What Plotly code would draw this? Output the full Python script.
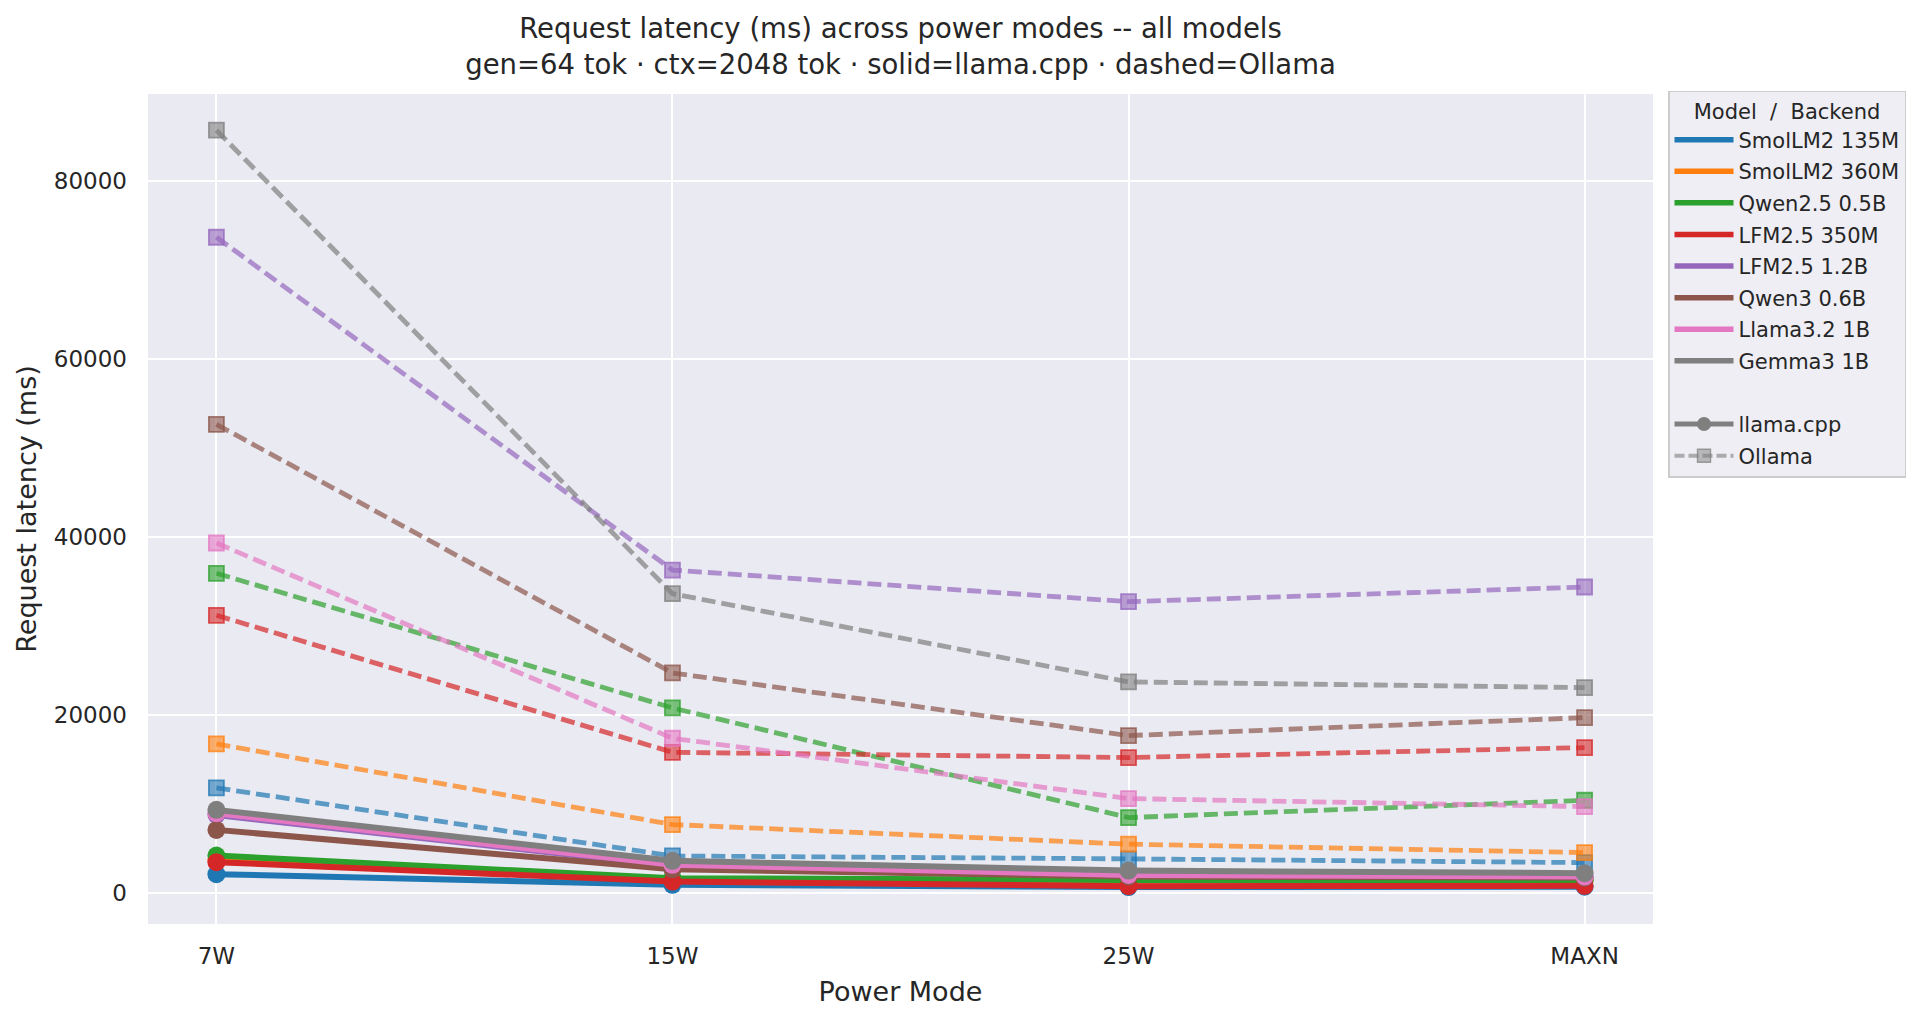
import plotly.graph_objects as go

modes = ["7W", "15W", "25W", "MAXN"]
models = ["SmolLM2 135M", "SmolLM2 360M", "Qwen2.5 0.5B", "LFM2.5 350M",
          "LFM2.5 1.2B", "Qwen3 0.6B", "Llama3.2 1B", "Gemma3 1B"]
colors = ["#1f77b4", "#ff7f0e", "#2ca02c", "#d62728",
          "#9467bd", "#8c564b", "#e377c2", "#7f7f7f"]

# llama.cpp request latency (ms) per power mode
llamacpp_smollm2_135m = [2100, 900, 650, 700]
llamacpp_smollm2_360m = [3700, 1500, 1350, 1450]
llamacpp_qwen25_05b = [4190, 1650, 1460, 1400]
llamacpp_lfm25_350m = [3450, 1270, 750, 790]
llamacpp_lfm25_12b = [8760, 3000, 2000, 1800]
llamacpp_qwen3_06b = [7080, 2650, 1830, 1700]
llamacpp_llama32_1b = [8950, 3150, 2020, 1830]
llamacpp_gemma3_1b = [9330, 3600, 2500, 2210]

# Ollama request latency (ms) per power mode
ollama_smollm2_135m = [11800, 4150, 3820, 3400]
ollama_smollm2_360m = [16740, 7680, 5470, 4530]
ollama_qwen25_05b = [35920, 20790, 8460, 10410]
ollama_lfm25_350m = [31200, 15800, 15210, 16330]
ollama_lfm25_12b = [73700, 36290, 32730, 34380]
ollama_qwen3_06b = [52660, 24720, 17680, 19700]
ollama_llama32_1b = [39330, 17380, 10600, 9700]
ollama_gemma3_1b = [85730, 33630, 23710, 23070]

llamacpp = [llamacpp_smollm2_135m, llamacpp_smollm2_360m, llamacpp_qwen25_05b,
            llamacpp_lfm25_350m, llamacpp_lfm25_12b, llamacpp_qwen3_06b,
            llamacpp_llama32_1b, llamacpp_gemma3_1b]
ollama = [ollama_smollm2_135m, ollama_smollm2_360m, ollama_qwen25_05b,
          ollama_lfm25_350m, ollama_lfm25_12b, ollama_qwen3_06b,
          ollama_llama32_1b, ollama_gemma3_1b]

y_ticks = [0, 20000, 40000, 60000, 80000]


def rgba(hex_color, a):
    h = hex_color.lstrip("#")
    r, g, b = int(h[0:2], 16), int(h[2:4], 16), int(h[4:6], 16)
    return f"rgba({r},{g},{b},{a})"


DASH = "14px,6px"
xs = list(range(len(modes)))
fig = go.Figure()

for name, col, sol, das in zip(models, colors, llamacpp, ollama):
    fig.add_trace(go.Scatter(
        x=xs, y=sol, mode="lines+markers", showlegend=False, name=name,
        line=dict(color=col, width=6),
        marker=dict(symbol="circle", size=18, color=col, line=dict(width=0)),
    ))
    fig.add_trace(go.Scatter(
        x=xs, y=das, mode="lines+markers", showlegend=False, name=name,
        line=dict(color=rgba(col, 0.7), width=4.8, dash=DASH),
        marker=dict(symbol="square", size=15, color=rgba(col, 0.6),
                    line=dict(width=1.8, color=rgba(col, 0.75))),
    ))

# legend entries (each in its own group so the spacing can be tuned)
for i, (name, col) in enumerate(zip(models, colors)):
    fig.add_trace(go.Scatter(
        x=[None], y=[None], mode="lines", name=name, legendgroup=f"g{i}",
        line=dict(color=col, width=5.5),
    ))
fig.add_trace(go.Scatter(
    x=[None], y=[None], mode="lines", name=" ", legendgroup="spacer",
    line=dict(color="rgba(0,0,0,0)", width=0),
))
fig.add_trace(go.Scatter(
    x=[None], y=[None], mode="lines+markers", name="llama.cpp", legendgroup="b1",
    line=dict(color="#7f7f7f", width=5),
    marker=dict(symbol="circle", size=14, color="#7f7f7f"),
))
fig.add_trace(go.Scatter(
    x=[None], y=[None], mode="lines+markers", name="Ollama", legendgroup="b2",
    line=dict(color=rgba("#7f7f7f", 0.6), width=4, dash="10px,4px"),
    marker=dict(symbol="square", size=13, color=rgba("#7f7f7f", 0.5),
                line=dict(width=1.5, color=rgba("#7f7f7f", 0.7))),
))

font_family = "DejaVu Sans"
text_col = "#262626"

fig.update_layout(
    width=1920, height=1023,
    paper_bgcolor="white",
    plot_bgcolor="#EAEAF2",
    font=dict(family=font_family, color=text_col, size=20),
    margin=dict(l=148, r=267, t=94, b=99),
    title=dict(
        text="Request latency (ms) across power modes -- all models<br>"
             "gen=64 tok · ctx=2048 tok · solid=llama.cpp · dashed=Ollama",
        x=(148 + 1653) / 2 / 1920, xanchor="center",
        y=1 - 38 / 1023, yanchor="middle", yref="container",
        font=dict(size=27.5, family=font_family, color=text_col),
    ),
    xaxis=dict(
        range=[-0.15, 3.15], tickvals=xs, ticktext=modes,
        showgrid=True, gridcolor="white", gridwidth=2, zeroline=False,
        showline=False, ticks="", ticklabelstandoff=16,
        tickfont=dict(size=23),
        title=dict(text="Power Mode", font=dict(size=27), standoff=14),
    ),
    yaxis=dict(
        range=[-3500, 89800], tickvals=y_ticks, tickformat="d",
        showgrid=True, gridcolor="white", gridwidth=2, zeroline=False,
        showline=False, ticks="", ticklabelstandoff=20,
        tickfont=dict(size=23),
        title=dict(text="Request latency (ms)", font=dict(size=27), standoff=9),
    ),
    legend=dict(
        x=(1668 - 148) / 1505, xanchor="left",
        y=1.004, yanchor="top",
        bgcolor="rgba(238,238,244,1)",
        bordercolor="#cccccc", borderwidth=1.5,
        font=dict(size=21, family=font_family, color=text_col),
        title=dict(text="Model  /  Backend", font=dict(size=21), side="top center"),
        traceorder="grouped", tracegroupgap=1.3,
        itemwidth=59,
    ),
)

fig.write_html("out.html", config={"displayModeBar": False},
               post_script="document.body.style.margin='0';")
